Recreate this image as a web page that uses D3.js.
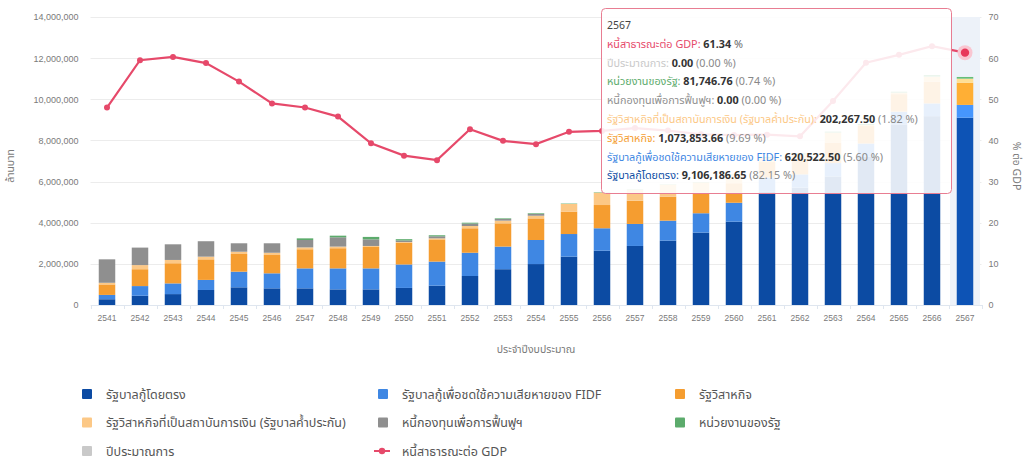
<!DOCTYPE html>
<html>
<head>
<meta charset="utf-8">
<script src="https://cdn.jsdelivr.net/npm/d3@7"></script>
<style>
  html, body { margin: 0; padding: 0; background: #fff; }
  svg { display: block; font-family: "Noto Sans Thai", "Noto Sans Thai Looped", "Sarabun", "Loma", "Garuda", "Noto Sans", sans-serif; }
</style>
</head>
<body>
<svg id="chart" width="1026" height="460"></svg>
<script>
// ---------- data (ล้านบาท) ----------
const years = ['2541','2542','2543','2544','2545','2546','2547','2548','2549','2550','2551','2552','2553','2554','2555','2556','2557','2558','2559','2560','2561','2562','2563','2564','2565','2566','2567'];

const directDebt = [280000, 450000, 530000, 730000, 860000, 810000, 810000, 760000, 760000, 830000, 940000, 1410000, 1740000, 1990000, 2350000, 2640000, 2870000, 3130000, 3520000, 4050000, 5500000, 5700000, 6250000, 7200000, 8780000, 9180000, 9106186.65];
const fidfDebt   = [210000, 470000, 520000, 490000, 760000, 730000, 970000, 1020000, 1020000, 1140000, 1170000, 1130000, 1100000, 1170000, 1100000, 1090000, 1070000, 970000, 940000, 920000, 700000, 650000, 650000, 650000, 620000, 620000, 620522.50];
const soeDebt    = [510000, 820000, 980000, 1000000, 860000, 890000, 930000, 980000, 1040000, 1050000, 1080000, 1190000, 1130000, 1050000, 1090000, 1130000, 1130000, 1170000, 1000000, 950000, 750000, 750000, 1000000, 850000, 850000, 1050000, 1073853.66];
const sfiDebt    = [80000, 200000, 160000, 130000, 110000, 110000, 90000, 80000, 50000, 40000, 50000, 110000, 130000, 130000, 370000, 600000, 530000, 580000, 500000, 430000, 200000, 220000, 480000, 50000, 70000, 250000, 202267.50];
const fundDebt   = [1140000, 850000, 760000, 750000, 410000, 460000, 360000, 450000, 320000, 80000, 100000, 120000, 80000, 90000, 0, 0, 0, 0, 0, 0, 0, 0, 0, 0, 0, 0, 0];
const agencyDebt = [0, 0, 0, 0, 0, 0, 80000, 80000, 120000, 60000, 50000, 40000, 30000, 30000, 20000, 20000, 20000, 20000, 20000, 20000, 50000, 50000, 50000, 50000, 50000, 80000, 81746.76];
const estimateDebt = [0, 0, 0, 0, 0, 0, 0, 0, 0, 0, 0, 0, 0, 0, 0, 0, 0, 0, 0, 0, 0, 0, 0, 0, 0, 0, 0];
const debtToGdp  = [48.0, 59.5, 60.3, 58.8, 54.3, 49.0, 48.0, 45.8, 39.3, 36.3, 35.2, 42.7, 39.9, 39.1, 42.1, 42.3, 43.0, 42.4, 41.5, 41.3, 41.4, 41.0, 49.6, 58.9, 60.8, 62.9, 61.34];

const leftTicks  = [0, 2000000, 4000000, 6000000, 8000000, 10000000, 12000000, 14000000];
const rightTicks = [0, 10, 20, 30, 40, 50, 60, 70];

const seriesNames = {
  direct: 'รัฐบาลกู้โดยตรง',
  fidf: 'รัฐบาลกู้เพื่อชดใช้ความเสียหายของ FIDF',
  soe: 'รัฐวิสาหกิจ',
  sfi: 'รัฐวิสาหกิจที่เป็นสถาบันการเงิน (รัฐบาลค้ำประกัน)',
  fund: 'หนี้กองทุนเพื่อการฟื้นฟูฯ',
  agency: 'หน่วยงานของรัฐ',
  estimate: 'ปีประมาณการ',
  gdp: 'หนี้สาธารณะต่อ GDP'
};
const yAxisName = 'ล้านบาท';
const y2AxisName = '% ต่อ GDP';
const xAxisName = 'ประจำปีงบประมาณ';
const hoverYear = '2567';

// ---------- styles ----------
const colors = {
  direct: '#0c4ba3', fidf: '#3f87e3', soe: '#f59d30', sfi: '#fcc886',
  fund: '#8f8f8f', agency: '#5cab6c', estimate: '#c9c9c9', gdp: '#e6496a'
};
const keys = ['direct','fidf','soe','sfi','fund','agency','estimate'];
const arrays = {direct: directDebt, fidf: fidfDebt, soe: soeDebt, sfi: sfiDebt, fund: fundDebt, agency: agencyDebt, estimate: estimateDebt};

const rows = years.map((yr, i) => {
  const r = {year: yr};
  keys.forEach(k => r[k] = arrays[k][i]);
  return r;
});

const svg = d3.select('#chart');
const plotL = 90.5, plotR = 981.5, plotT = 17, plotB = 305;

const x = d3.scaleBand().domain(years).range([plotL, plotR]);
const y = d3.scaleLinear().domain([0, 14000000]).range([plotB, plotT]);
const y2 = d3.scaleLinear().domain([0, 70]).range([plotB, plotT]);

// grid
svg.append('g').selectAll('line').data(leftTicks).join('line')
  .attr('x1', plotL).attr('x2', plotR)
  .attr('y1', d => Math.round(y(d)) + 0.5).attr('y2', d => Math.round(y(d)) + 0.5)
  .attr('stroke', '#ececec').attr('stroke-width', 1);

// hover band
svg.append('rect')
  .attr('x', x(hoverYear) + 1.5).attr('y', plotT)
  .attr('width', x.bandwidth() - 3).attr('height', plotB - plotT)
  .attr('fill', '#edf2f9');

// left axis
const gl = svg.append('g').attr('transform', `translate(${plotL},0)`)
  .call(d3.axisLeft(y).tickValues(leftTicks).tickSize(0).tickPadding(12).tickFormat(d3.format(',')));
gl.select('.domain').remove();
gl.selectAll('text').attr('fill', '#7a7a7a').attr('font-size', 9);

// right axis
const gr = svg.append('g').attr('transform', `translate(${plotR},0)`)
  .call(d3.axisRight(y2).tickValues(rightTicks).tickSize(0).tickPadding(7));
gr.select('.domain').remove();
gr.selectAll('text').attr('fill', '#7a7a7a').attr('font-size', 9);

// x axis
const gx = svg.append('g').attr('transform', `translate(0,${plotB})`)
  .call(d3.axisBottom(x).tickSize(0).tickPadding(10));
gx.select('.domain').attr('stroke', '#dfe6ef');
gx.selectAll('text').attr('fill', '#7a7a7a').attr('font-size', 8.5);
// boundary ticks
svg.append('g').selectAll('line').data(years.concat(['end'])).join('line')
  .attr('x1', (d, i) => Math.round(plotL + i * x.step()) + 0.5)
  .attr('x2', (d, i) => Math.round(plotL + i * x.step()) + 0.5)
  .attr('y1', plotB).attr('y2', plotB + 4)
  .attr('stroke', '#dfe6ef');

// axis names
svg.append('text').attr('transform', `translate(14,${(plotT + plotB) / 2 + 5}) rotate(-90)`)
  .attr('text-anchor', 'middle').attr('fill', '#7a7a7a').attr('font-size', 10.5).text(yAxisName);
svg.append('text').attr('transform', `translate(1013,${(plotT + plotB) / 2 + 5}) rotate(90)`)
  .attr('text-anchor', 'middle').attr('fill', '#7a7a7a').attr('font-size', 10.5).text(y2AxisName);
svg.append('text').attr('x', (plotL + plotR) / 2).attr('y', 353)
  .attr('text-anchor', 'middle').attr('fill', '#7a7a7a').attr('font-size', 10.5).text(xAxisName);

// bars
const stacked = d3.stack().keys(keys)(rows);
const barW = x.bandwidth() * 0.5;
svg.append('g').selectAll('g').data(stacked).join('g')
  .each(function(s) {
    d3.select(this).selectAll('rect').data(s).join('rect')
      .attr('x', d => x(d.data.year) + (x.bandwidth() - barW) / 2)
      .attr('width', barW)
      .attr('y', d => y(d[1]))
      .attr('height', d => Math.max(0, y(d[0]) - y(d[1])))
      .attr('fill', d => d.data.year === hoverYear ? d3.color(colors[s.key]).brighter(0.3) : colors[s.key]);
  });

// line
const cx = yr => x(yr) + x.bandwidth() / 2;
svg.append('path').datum(debtToGdp)
  .attr('d', d3.line().x((d, i) => cx(years[i])).y(d => y2(d)))
  .attr('fill', 'none').attr('stroke', colors.gdp).attr('stroke-width', 2.2);
svg.append('g').selectAll('circle').data(debtToGdp).join('circle')
  .attr('cx', (d, i) => cx(years[i])).attr('cy', d => y2(d)).attr('r', 3)
  .attr('fill', colors.gdp);
const hi = years.indexOf(hoverYear);
svg.append('circle').attr('cx', cx(hoverYear)).attr('cy', y2(debtToGdp[hi])).attr('r', 7.5)
  .attr('fill', '#f9c6d1');
svg.append('circle').attr('cx', cx(hoverYear)).attr('cy', y2(debtToGdp[hi])).attr('r', 4.2)
  .attr('fill', '#e8385a');

// legend
const legendOrder = ['direct','fidf','soe','sfi','fund','agency','estimate','gdp'];
const colX = [82, 378, 675], rowY = [394, 422.5, 451];
const lg = svg.append('g');
legendOrder.forEach((k, i) => {
  const cxl = colX[i % 3], cyl = rowY[Math.floor(i / 3)];
  if (k === 'gdp') {
    lg.append('line').attr('x1', cxl - 4).attr('x2', cxl + 12).attr('y1', cyl).attr('y2', cyl)
      .attr('stroke', colors.gdp).attr('stroke-width', 2);
    lg.append('circle').attr('cx', cxl + 4).attr('cy', cyl).attr('r', 3.2).attr('fill', colors.gdp);
  } else {
    lg.append('rect').attr('x', cxl).attr('y', cyl - 5).attr('width', 10).attr('height', 10)
      .attr('rx', 1).attr('fill', colors[k]);
  }
  lg.append('text').attr('x', cxl + 24).attr('y', cyl + 4.5).attr('fill', '#555')
    .attr('font-size', 12.5).text(seriesNames[k]);
});

// tooltip
const total = keys.reduce((s, k) => s + arrays[k][hi], 0);
const fmt = d3.format(',.2f');
const tt = svg.append('g');
tt.append('rect').attr('x', 601.5).attr('y', 8.5).attr('width', 350).attr('height', 185)
  .attr('rx', 4).attr('fill', 'rgba(255,255,255,0.88)').attr('stroke', '#e87d92').attr('stroke-width', 1);
const tx = 607, ty0 = 29, tdy = 18.8;
tt.append('text').attr('x', tx).attr('y', ty0).attr('font-size', 10.5).attr('fill', '#444').text(hoverYear);
const ttRows = ['gdp','estimate','agency','fund','sfi','soe','fidf','direct'];
ttRows.forEach((k, j) => {
  const t = tt.append('text').attr('x', tx).attr('y', ty0 + (j + 1) * tdy).attr('font-size', 10.8);
  t.append('tspan').attr('fill', colors[k]).text(seriesNames[k] + ': ');
  if (k === 'gdp') {
    t.append('tspan').attr('fill', '#333').attr('font-weight', 'bold').text(debtToGdp[hi].toFixed(2));
    t.append('tspan').attr('fill', '#666').text(' %');
  } else {
    const v = arrays[k][hi];
    t.append('tspan').attr('fill', '#333').attr('font-weight', 'bold').text(fmt(v));
    t.append('tspan').attr('fill', '#888').text(' (' + (v / total * 100).toFixed(2) + ' %)');
  }
});
</script>
</body>
</html>
